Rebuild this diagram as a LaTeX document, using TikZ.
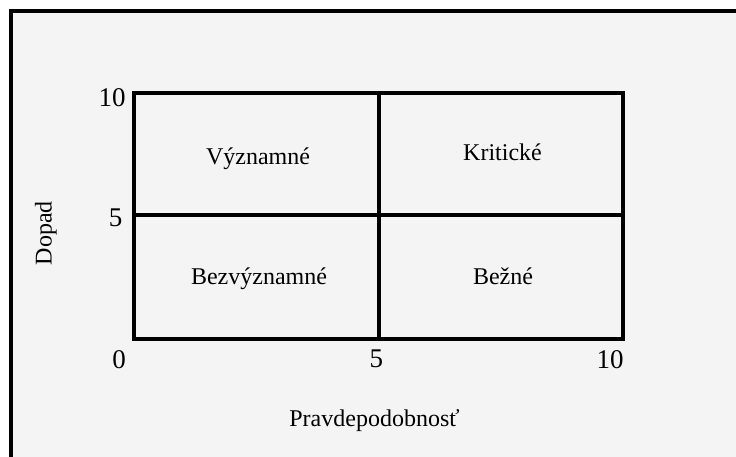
\documentclass[tikz,border=0pt]{standalone}
\usepackage{fontspec}
\setmainfont{Liberation Serif}
\definecolor{bg}{HTML}{F4F4F4}
\begin{document}
\begin{tikzpicture}[x=1pt,y=-1pt,
  frame/.style={line width=4pt},
  gridline/.style={line width=4pt},
  lbl/.style={font=\fontsize{24}{28}\selectfont, inner sep=0pt},
  num/.style={font=\fontsize{27}{30}\selectfont, inner sep=0pt}]
\useasboundingbox (0,0) rectangle (736,457);
\fill[white] (0,0) rectangle (736,457);
\fill[bg] (11,11) rectangle (736,457);
\coordinate (fbl) at (11,459);
\coordinate (ftl) at (11,11);
\coordinate (ftr) at (738,11);
\draw[frame] (fbl) -- (ftl) -- (ftr);
% grid
\coordinate (tl) at (134,93.5);
\coordinate (br) at (623,338.5);
\coordinate (mt) at (378.5,93.5);
\coordinate (mb) at (378.5,338.5);
\coordinate (ml) at (134,215);
\coordinate (mr) at (623,215);
\draw[gridline] (tl) rectangle (br);
\draw[gridline] (mt) -- (mb);
\draw[gridline] (ml) -- (mr);
% cell labels
\node[lbl, anchor=base] (vyz) at (258,164.5) {Významné};
\node[lbl, anchor=base] (kri) at (502.5,160.7) {Kritické};
\node[lbl, anchor=base] (bez) at (259,284) {Bezvýznamné};
\node[lbl, anchor=base] (bez2) at (503,284) {Bežné};
% axis numbers
\node[num] (y10) at (112,98) {10};
\node[num] (y5) at (115.5,217.5) {5};
\node[num] (x0) at (119,359.5) {0};
\node[num] (x5) at (376.3,359) {5};
\node[num] (x10) at (610,359.3) {10};
% axis titles
\node[lbl, rotate=90] (dopad) at (45.8,233.3) {Dopad};
\node[lbl, anchor=base] (prav) at (374.5,426) {Pravdepodobnosť};
\end{tikzpicture}
\end{document}
